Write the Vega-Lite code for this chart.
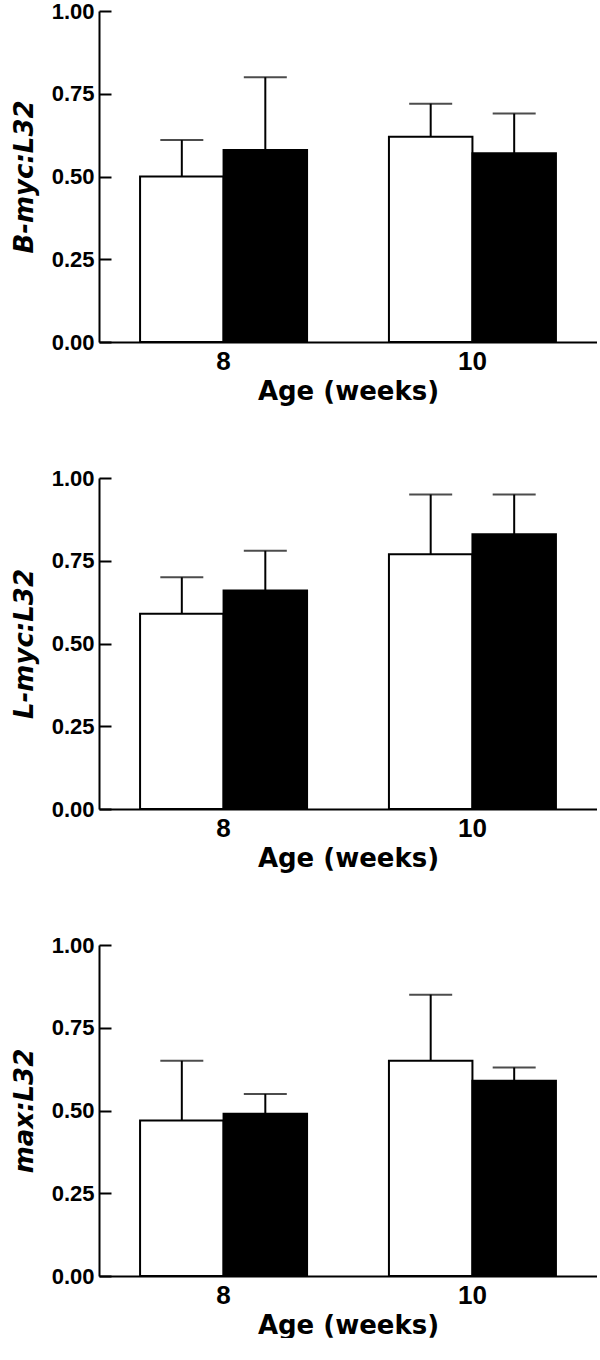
{
  "$schema": "https://vega.github.io/schema/vega-lite/v6.json",
  "padding": {"left": 11, "top": 0, "right": 0, "bottom": 0},
  "background": "white",
  "spacing": 63,
  "config": {
    "view": {"stroke": null},
    "axis": {
      "domainColor": "black", "domainWidth": 2, "tickColor": "black", "tickWidth": 2,
      "labelColor": "black", "titleColor": "black", "grid": false,
      "titleFont": "DejaVu Sans", "titleFontWeight": "bold"
    },
    "axisX": {"labelFont": "Liberation Sans", "labelFontWeight": "bold", "labelFontSize": 26, "labelAngle": 0, "ticks": false, "labelPadding": 6, "titleFontSize": 26, "titlePadding": 4},
    "axisY": {"labelFont": "Liberation Sans", "labelFontWeight": "bold", "labelFontSize": 22, "tickSize": -12, "labelPadding": 17, "titlePadding": 14, "titleFontSize": 26, "titleFontStyle": "italic"}
  },
  "data": {"values": [
    {"panel": "B", "age": "8", "group": "control", "value": 0.50, "upper": 0.61},
    {"panel": "B", "age": "8", "group": "treated", "value": 0.58, "upper": 0.80},
    {"panel": "B", "age": "10", "group": "control", "value": 0.62, "upper": 0.72},
    {"panel": "B", "age": "10", "group": "treated", "value": 0.57, "upper": 0.69},
    {"panel": "L", "age": "8", "group": "control", "value": 0.59, "upper": 0.70},
    {"panel": "L", "age": "8", "group": "treated", "value": 0.66, "upper": 0.78},
    {"panel": "L", "age": "10", "group": "control", "value": 0.77, "upper": 0.95},
    {"panel": "L", "age": "10", "group": "treated", "value": 0.83, "upper": 0.95},
    {"panel": "M", "age": "8", "group": "control", "value": 0.47, "upper": 0.65},
    {"panel": "M", "age": "8", "group": "treated", "value": 0.49, "upper": 0.55},
    {"panel": "M", "age": "10", "group": "control", "value": 0.65, "upper": 0.85},
    {"panel": "M", "age": "10", "group": "treated", "value": 0.59, "upper": 0.63}
  ]},
  "vconcat": [
    {
      "width": 498, "height": 331,
      "transform": [{"filter": "datum.panel === 'B'"}],
      "encoding": {
        "x": {"field": "age", "type": "ordinal", "sort": ["8", "10"],
              "scale": {"paddingInner": 0.329, "paddingOuter": 0.165},
              "axis": {"title": "Age (weeks)"}},
        "xOffset": {"field": "group", "type": "nominal", "sort": ["control", "treated"], "scale": {"paddingInner": 0, "paddingOuter": 0}}
      },
      "layer": [
        {"mark": {"type": "bar", "stroke": "black", "strokeWidth": 2},
         "encoding": {
           "y": {"field": "value", "type": "quantitative", "scale": {"domain": [0, 1], "nice": false},
                 "axis": {"title": "B-myc:L32", "values": [0, 0.25, 0.5, 0.75, 1], "format": ".2f"}},
           "fill": {"field": "group", "type": "nominal", "scale": {"domain": ["control", "treated"], "range": ["white", "black"]}, "legend": null}
         }},
        {"mark": {"type": "rule", "color": "black", "strokeWidth": 2},
         "encoding": {"y": {"field": "value", "type": "quantitative"}, "y2": {"field": "upper"}}},
        {"mark": {"type": "tick", "color": "black", "thickness": 2, "size": 43},
         "encoding": {"y": {"field": "upper", "type": "quantitative"}}}
      ]
    },
    {
      "width": 498, "height": 331,
      "transform": [{"filter": "datum.panel === 'L'"}],
      "encoding": {
        "x": {"field": "age", "type": "ordinal", "sort": ["8", "10"],
              "scale": {"paddingInner": 0.329, "paddingOuter": 0.165},
              "axis": {"title": "Age (weeks)"}},
        "xOffset": {"field": "group", "type": "nominal", "sort": ["control", "treated"], "scale": {"paddingInner": 0, "paddingOuter": 0}}
      },
      "layer": [
        {"mark": {"type": "bar", "stroke": "black", "strokeWidth": 2},
         "encoding": {
           "y": {"field": "value", "type": "quantitative", "scale": {"domain": [0, 1], "nice": false},
                 "axis": {"title": "L-myc:L32", "values": [0, 0.25, 0.5, 0.75, 1], "format": ".2f"}},
           "fill": {"field": "group", "type": "nominal", "scale": {"domain": ["control", "treated"], "range": ["white", "black"]}, "legend": null}
         }},
        {"mark": {"type": "rule", "color": "black", "strokeWidth": 2},
         "encoding": {"y": {"field": "value", "type": "quantitative"}, "y2": {"field": "upper"}}},
        {"mark": {"type": "tick", "color": "black", "thickness": 2, "size": 43},
         "encoding": {"y": {"field": "upper", "type": "quantitative"}}}
      ]
    },
    {
      "width": 498, "height": 331,
      "transform": [{"filter": "datum.panel === 'M'"}],
      "encoding": {
        "x": {"field": "age", "type": "ordinal", "sort": ["8", "10"],
              "scale": {"paddingInner": 0.329, "paddingOuter": 0.165},
              "axis": {"title": "Age (weeks)"}},
        "xOffset": {"field": "group", "type": "nominal", "sort": ["control", "treated"], "scale": {"paddingInner": 0, "paddingOuter": 0}}
      },
      "layer": [
        {"mark": {"type": "bar", "stroke": "black", "strokeWidth": 2},
         "encoding": {
           "y": {"field": "value", "type": "quantitative", "scale": {"domain": [0, 1], "nice": false},
                 "axis": {"title": "max:L32", "values": [0, 0.25, 0.5, 0.75, 1], "format": ".2f"}},
           "fill": {"field": "group", "type": "nominal", "scale": {"domain": ["control", "treated"], "range": ["white", "black"]}, "legend": null}
         }},
        {"mark": {"type": "rule", "color": "black", "strokeWidth": 2},
         "encoding": {"y": {"field": "value", "type": "quantitative"}, "y2": {"field": "upper"}}},
        {"mark": {"type": "tick", "color": "black", "thickness": 2, "size": 43},
         "encoding": {"y": {"field": "upper", "type": "quantitative"}}}
      ]
    }
  ]
}
